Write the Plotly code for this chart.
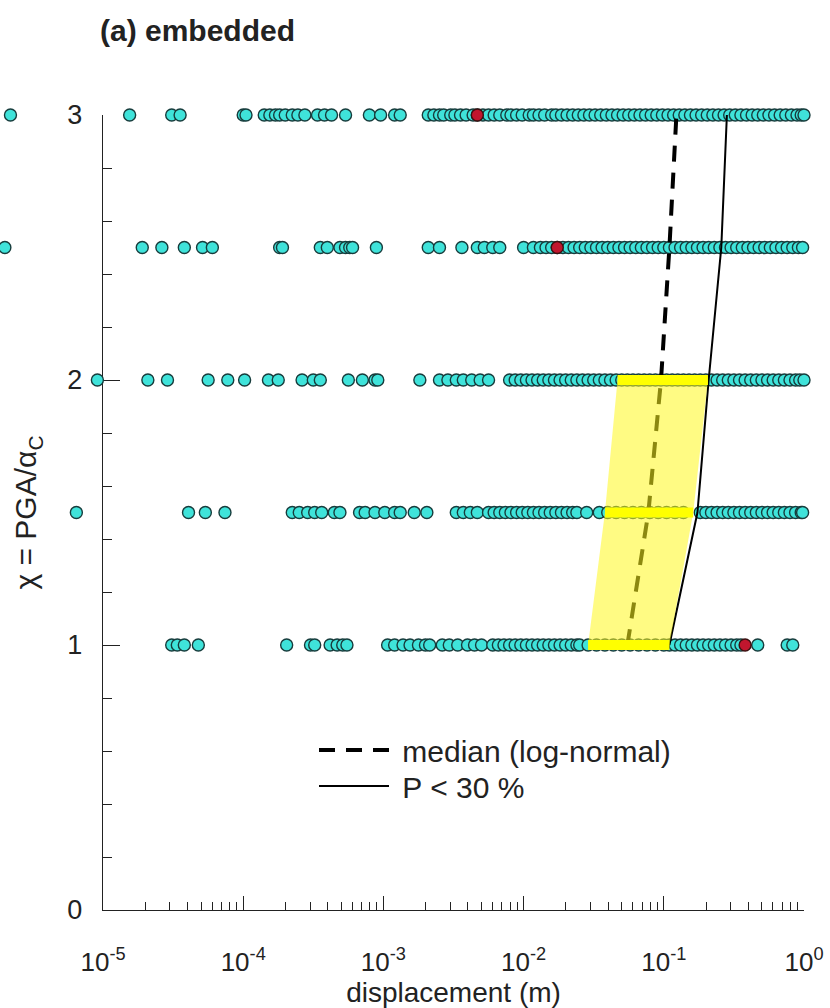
import plotly.graph_objects as go

# ---- data (log10 of displacement in m) ----
chi_levels = [1.0, 1.5, 2.0, 2.5, 3.0]

row_3_0 = [-5.66, -4.81, -4.51, -4.45, -4.00, -3.98, -3.85, -3.81, -3.77, -3.74, -3.70,
           -3.65, -3.61, -3.56, -3.47, -3.42, -3.37, -3.27, -3.10, -3.02, -2.92, -2.88,
           -2.68, -2.64, -2.60, -2.57, -2.52, -2.49, -2.45, -2.41, -2.36, -2.33, -2.29,
           -2.25, -2.21, -2.17, -2.12, -2.09, -2.05, -2.01, -1.96, -1.93, -1.89, -1.85,
           -1.80, -1.77, -1.73, -1.69, -1.65, -1.61, -1.57, -1.53, -1.49, -1.45, -1.41,
           -1.37, -1.33, -1.29, -1.25, -1.21, -1.17, -1.13, -1.09, -1.05, -1.01, -0.97,
           -0.93, -0.89, -0.85, -0.81, -0.77, -0.73, -0.69, -0.65, -0.61, -0.57, -0.53,
           -0.49, -0.45, -0.41, -0.37, -0.33, -0.29, -0.25, -0.21, -0.17, -0.13, -0.09,
           -0.05, -0.02, 0.0]
row_2_5 = [-5.70, -4.72, -4.58, -4.42, -4.29, -4.22, -3.74, -3.72, -3.45, -3.40, -3.31,
           -3.27, -3.24, -3.22, -3.05, -2.68, -2.60, -2.44, -2.33, -2.28, -2.22, -2.17,
           -2.00, -1.93, -1.88, -1.84, -1.80, -1.76, -1.72, -1.68, -1.64, -1.60, -1.56,
           -1.52, -1.48, -1.44, -1.40, -1.36, -1.32, -1.28, -1.24, -1.20, -1.16, -1.12,
           -1.08, -1.04, -1.00, -0.96, -0.92, -0.88, -0.84, -0.80, -0.76, -0.72, -0.68,
           -0.64, -0.60, -0.56, -0.52, -0.48, -0.44, -0.40, -0.36, -0.32, -0.28, -0.24,
           -0.20, -0.16, -0.12, -0.08, -0.04, -0.01]
row_2_0 = [-5.04, -4.68, -4.54, -4.25, -4.11, -3.99, -3.82, -3.75, -3.58, -3.50, -3.45,
           -3.25, -3.15, -3.06, -3.04, -2.74, -2.60, -2.54, -2.48, -2.43, -2.37, -2.31,
           -2.25, -2.10, -2.06, -2.02, -1.98, -1.94, -1.90, -1.86, -1.82, -1.78, -1.74,
           -1.70, -1.66, -1.62, -1.58, -1.54, -1.50, -1.46, -1.42, -1.38, -1.34, -1.30,
           -1.26, -1.22, -1.18, -1.14, -1.10, -1.06, -1.02, -0.98, -0.94, -0.90, -0.86,
           -0.82, -0.78, -0.74, -0.70, -0.66, -0.62, -0.58, -0.54, -0.50, -0.46, -0.42,
           -0.38, -0.34, -0.30, -0.26, -0.22, -0.18, -0.14, -0.10, -0.06, -0.03, 0.0]
row_1_5 = [-5.19, -4.39, -4.27, -4.13, -3.65, -3.60, -3.54, -3.49, -3.44, -3.35, -3.31,
           -3.17, -3.13, -3.06, -2.99, -2.92, -2.88, -2.78, -2.69, -2.48, -2.43, -2.38,
           -2.33, -2.25, -2.21, -2.17, -2.13, -2.09, -2.05, -2.01, -1.97, -1.93, -1.89,
           -1.85, -1.81, -1.77, -1.73, -1.69, -1.65, -1.62, -1.55, -1.46, -1.40, -1.34,
           -1.28, -1.22, -1.16, -1.10, -1.04, -0.98, -0.92, -0.86, -0.74, -0.70, -0.66,
           -0.62, -0.58, -0.54, -0.50, -0.46, -0.42, -0.38, -0.34, -0.30, -0.26, -0.22,
           -0.18, -0.14, -0.10, -0.06, -0.02, -0.01]
row_1_0 = [-4.51, -4.47, -4.42, -4.32, -3.69, -3.52, -3.49, -3.38, -3.33, -3.29, -3.26,
           -2.97, -2.92, -2.86, -2.81, -2.75, -2.70, -2.67, -2.58, -2.53, -2.47, -2.40,
           -2.35, -2.30, -2.22, -2.18, -2.14, -2.10, -2.06, -2.02, -1.98, -1.94, -1.90,
           -1.86, -1.82, -1.78, -1.74, -1.70, -1.66, -1.62, -1.60, -1.54, -1.48, -1.42,
           -1.36, -1.30, -1.24, -1.18, -1.12, -1.06, -1.00, -0.96, -0.92, -0.88, -0.84,
           -0.80, -0.76, -0.72, -0.68, -0.64, -0.60, -0.56, -0.52, -0.48, -0.45, -0.33,
           -0.12, -0.08]

red_chi = [3.0, 2.5, 1.0]
red_log = [-2.33, -1.76, -0.42]

# median (log-normal) and P < 30 % curves, log10 displacement per chi level
median_log = [-1.26, -1.11, -1.02, -0.96, -0.91]
p30_log = [-0.96, -0.76, -0.68, -0.59, -0.55]

# yellow band (chi 1 .. 2): left edge, right edge
band_chi = [1.0, 1.5, 2.0]
band_left_log = [-1.54, -1.42, -1.33]
band_right_log = [-0.96, -0.79, -0.685]

x_tick_exp = [-5, -4, -3, -2, -1, 0]
y_ticks = [0, 1, 2, 3]

rows = {3.0: row_3_0, 2.5: row_2_5, 2.0: row_2_0, 1.5: row_1_5, 1.0: row_1_0}

FONT = "Liberation Sans, Arial, sans-serif"
CYAN = "#3fe3da"
EDGE = "#173c3c"
W, H = 830, 1008
ML, MR, MT, MB = 0, 26, 115, 98
AX_LEFT = 103                     # pixel of the visible x-axis start
PAPER_W = W - ML - MR
PAPER_H = H - MT - MB
X_MIN, X_MAX = -5, 0
px_per_dec = (PAPER_W - AX_LEFT) / (X_MAX - X_MIN)

fig = go.Figure()

# points inside the visible range -> xaxis ; points left of 1e-5 -> invisible wider axis x2
for chi, vals in rows.items():
    inside = [v for v in vals if v >= X_MIN]
    outside = [v for v in vals if v < X_MIN]
    fig.add_trace(go.Scatter(
        x=[10 ** v for v in inside], y=[chi] * len(inside), mode="markers",
        marker=dict(size=12, color=CYAN, line=dict(color=EDGE, width=1.4)),
        cliponaxis=False, showlegend=False, hoverinfo="skip"))
    if outside:
        fig.add_trace(go.Scatter(
            x=[10 ** v for v in outside], y=[chi] * len(outside), mode="markers",
            xaxis="x2", yaxis="y",
            marker=dict(size=12, color=CYAN, line=dict(color=EDGE, width=1.4)),
            cliponaxis=False, showlegend=False, hoverinfo="skip"))

fig.add_trace(go.Scatter(
    x=[10 ** v for v in red_log], y=red_chi, mode="markers",
    marker=dict(size=12, color="#c0162e", line=dict(color="#3a1010", width=1.4)),
    cliponaxis=False, showlegend=False, hoverinfo="skip"))

# curves
fig.add_trace(go.Scatter(
    x=[10 ** v for v in median_log], y=chi_levels, mode="lines",
    line=dict(color="black", width=4, dash="16px,11px"),
    name="\u00a0median (log-normal)", cliponaxis=False, legend="legend"))
fig.add_trace(go.Scatter(
    x=[10 ** v for v in p30_log], y=chi_levels, mode="lines",
    line=dict(color="black", width=2),
    name="\u00a0P < 30 %", cliponaxis=False, legend="legend2"))

# yellow translucent band
poly_x = [10 ** v for v in band_left_log] + [10 ** v for v in band_right_log[::-1]]
poly_y = band_chi + band_chi[::-1]
fig.add_trace(go.Scatter(
    x=poly_x + [poly_x[0]], y=poly_y + [poly_y[0]], mode="lines", fill="toself",
    fillcolor="rgba(255,248,30,0.55)", line=dict(width=0),
    showlegend=False, hoverinfo="skip"))

# yellow bars at each chi level
for chi, lo, hi in zip(band_chi, band_left_log, band_right_log):
    fig.add_trace(go.Scatter(
        x=[10 ** lo, 10 ** hi], y=[chi, chi], mode="lines",
        line=dict(color="#ffff00", width=10), showlegend=False, hoverinfo="skip"))

legend_style = dict(xanchor="left", yanchor="top", bgcolor="rgba(0,0,0,0)",
                    font=dict(family=FONT, size=30, color="#222"), itemwidth=70)

fig.update_layout(
    width=W, height=H,
    margin=dict(l=ML, r=MR, t=MT, b=MB, autoexpand=False),
    plot_bgcolor="rgba(0,0,0,0)", paper_bgcolor="white",
    font=dict(family=FONT, size=27, color="#222"),
    title=dict(text="<b>(a) embedded</b>", x=100 / PAPER_W, xref="paper", xanchor="left",
               y=1 - 30 / H, yanchor="middle",
               font=dict(family=FONT, size=30, color="#222")),
    legend=dict(x=314 / PAPER_W, y=(H - MB - 724) / PAPER_H, **legend_style),
    legend2=dict(x=314 / PAPER_W, y=(H - MB - 760) / PAPER_H, **legend_style),
    showlegend=True,
    xaxis2=dict(type="log", domain=[0, 1], visible=False, anchor="y",
                range=[X_MIN - AX_LEFT / px_per_dec, X_MAX]),
)

fig.layout.xaxis.update(
    type="log", range=[X_MIN, X_MAX], domain=[AX_LEFT / PAPER_W, 1], automargin=False,
    showline=True, linecolor="#222", linewidth=1.4, mirror=False,
    showgrid=False, zeroline=False,
    ticks="inside", ticklen=14, tickcolor="#222", tickwidth=1.3,
    tickvals=[10 ** e for e in x_tick_exp],
    ticktext=["10<sup>%d</sup>" % e for e in x_tick_exp],
    ticklabelstandoff=29, tickfont=dict(size=26),
    minor=dict(ticks="inside", ticklen=8, tickcolor="#222", tickwidth=1.2, dtick="D1", showgrid=False),
    title=dict(text="displacement (m)", standoff=8, font=dict(size=28)),
)
fig.layout.yaxis.update(
    range=[0, 3], automargin=False, anchor="x",
    showline=True, linecolor="#222", linewidth=1.4,
    showgrid=False, zeroline=False,
    ticks="inside", ticklen=17, tickcolor="#222", tickwidth=1.3,
    tickvals=y_ticks, ticklabelstandoff=14, tickfont=dict(size=27),
    minor=dict(ticks="inside", ticklen=9, tickcolor="#222", tickwidth=1.2, dtick=0.2, showgrid=False),
    title=dict(text="χ = PGA/α<sub>C</sub>", standoff=21, font=dict(size=30)),
)

fig.write_html("out.html", config={"displayModeBar": False},
               post_script="document.body.style.margin='0px';")
